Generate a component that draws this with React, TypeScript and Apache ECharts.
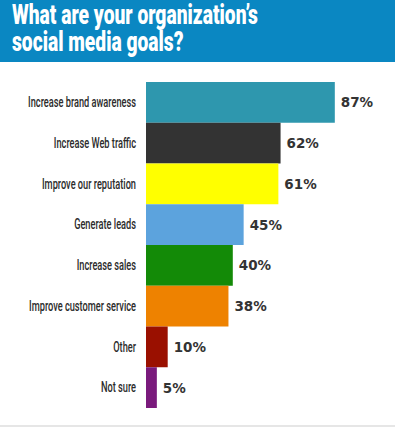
import React, { useEffect, useRef } from "react";
import * as echarts from "echarts";

const categories = [
  "Increase brand awareness",
  "Increase Web traffic",
  "Improve our reputation",
  "Generate leads",
  "Increase sales",
  "Improve customer service",
  "Other",
  "Not sure",
];
const values = [87, 62, 61, 45, 40, 38, 10, 5];
const barColors = ["#2E97AE", "#333333", "#FFFF00", "#5CA3DD", "#138A07", "#EE8200", "#9A1000", "#7A1A7C"];
const titleLines = ["What are your organization’s", "social media goals?"];

const TITLE_FONT = 'Roboto, "DejaVu Sans", sans-serif';
const LABEL_FONT = 'Roboto, "DejaVu Sans", sans-serif';

function measure(text: string, font: string): number {
  const ctx = document.createElement("canvas").getContext("2d");
  if (!ctx) return text.length * 10;
  ctx.font = font;
  return ctx.measureText(text).width;
}

export default function App() {
  const ref = useRef<HTMLDivElement>(null);
  useEffect(() => {
    if (!ref.current) return;
    const chart = echarts.init(ref.current, undefined, { renderer: "svg" });
    const titleSize = 27;
    const titleFont = `900 ${titleSize}px ${TITLE_FONT}`;
    const tsx = 246 / measure(titleLines[0], titleFont);
    const labelSize = 14;
    const labelFont = `500 ${labelSize}px ${LABEL_FONT}`;
    const lsx = 108 / measure(categories[0], labelFont);

    chart.setOption({
      animation: false,
      backgroundColor: "#ffffff",
      graphic: [
        { id: "hdr", type: "rect", left: 0, top: 0, shape: { width: 395, height: 62 }, style: { fill: "#0A87C2" }, z: 0 },
        ...titleLines.map((t, i) => ({
          id: "title" + i,
          type: "text",
          x: 12,
          y: 15 + i * 27,
          scaleX: tsx,
          style: { text: t, fill: "#ffffff", font: titleFont, verticalAlign: "middle", align: "left" },
          z: 2,
        })),
        { id: "btm", type: "rect", left: 0, top: 425, shape: { width: 395, height: 2 }, style: { fill: "#E6E6E6" } },
      ],
      grid: { left: 146, top: 82, width: 217, height: 326, outerBoundsMode: "none", containLabel: false },
      xAxis: { type: "value", min: 0, max: 100, show: false },
      yAxis: {
        type: "category",
        data: categories,
        inverse: true,
        axisLine: { show: false },
        axisTick: { show: false },
        axisLabel: { show: false },
      },
      series: [
        {
          type: "bar",
          data: values.map((v, i) => ({ value: v, itemStyle: { color: barColors[i] } })),
          barCategoryGap: 0,
          barWidth: "100%",
          label: {
            show: true,
            position: "right",
            distance: 6,
            formatter: "{c}%",
            color: "#333333",
            fontSize: 13.5,
            fontWeight: 900,
            fontFamily: '"DejaVu Sans", sans-serif',
          },
        },
      ],
    });

    const labelEls = categories.map((c, i) => {
      const y = chart.convertToPixel({ yAxisIndex: 0 }, c) as number;
      return {
        id: "cat" + i,
        type: "text",
        x: 136,
        y: y,
        scaleX: lsx,
        style: { text: c, fill: "#2b2b2b", font: labelFont, align: "right", verticalAlign: "middle" },
      };
    });
    chart.setOption({ graphic: labelEls });
    return () => chart.dispose();
  }, []);
  return <div ref={ref} style={{ position: "absolute", left: 0, top: 0, width: 395, height: 427 }} />;
}
